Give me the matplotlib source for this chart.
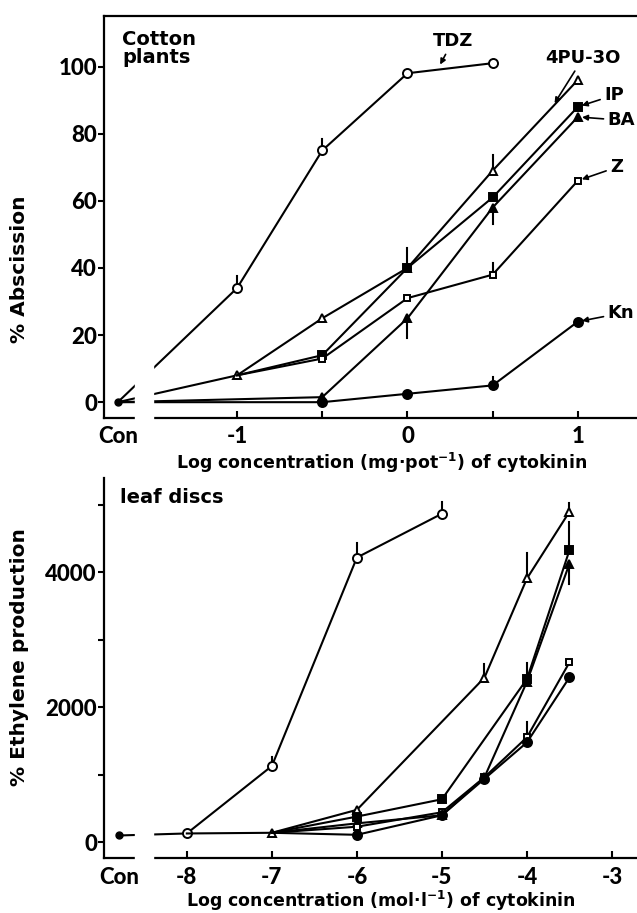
import matplotlib
matplotlib.use("Agg")
import matplotlib.pyplot as plt
import numpy as np

plt.rcParams['font.family'] = ['Lato', 'DejaVu Sans']
plt.rcParams['mathtext.default'] = 'regular'
plt.rcParams['axes.unicode_minus'] = False

nan = np.nan

# Top panel: cotton plants, % abscission (first value = control)
top_x = [-1, -0.5, 0, 0.5, 1]
top_ticklabels = ["-1", "", "0", "", "1"]
tdz_top = [0, 34, 75, 98, 101, nan]
pu_top = [0, 8, 25, 40, 69, 96]
ip_top = [nan, 8, 14, 40, 61, 88]
ba_top = [0, nan, 1.5, 25, 58, 85]
z_top = [nan, 8, 13, 31, 38, 66]
kn_top = [0, nan, 0, 2.5, 5, 24]
# one-sided error bars (+ up, - down)
tdz_top_err = [0, 3.5, 3.5, 0, 0, 0]
pu_top_err = [0, 0, 0, 6, 4.5, 0]
ip_top_err = [0, 0, 0, 0, 0, 0]
ba_top_err = [0, 0, 0, -6, -5, 0]
z_top_err = [0, 0, 0, 0, 3.5, 0]
kn_top_err = [0, 0, 0, 0, 2.5, 0]

# Bottom panel: leaf discs, % ethylene production (first value = control)
bot_x = [-8, -7, -6, -5, -4.5, -4, -3.5]
bot_ticklabels = ["-8", "-7", "-6", "-5", "-4", "-3"]
tdz_bot = [100, 130, 1130, 4220, 4870, nan, nan, nan]
pu_bot = [nan, 130, 140, 480, nan, 2440, 3910, 4900]
ip_bot = [nan, nan, 140, 380, 637, nan, 2420, 4330]
ba_bot = [nan, nan, 140, 280, 400, 963, 2380, 4130]
z_bot = [nan, nan, 140, 230, 444, 963, 1556, 2667]
kn_bot = [nan, nan, 140, 110, 400, 940, 1480, 2444]
tdz_bot_err = [0, 0, 130, 220, 170, 0, 0, 0]
pu_bot_err = [0, 0, 0, 0, 0, 200, 380, 130]
ip_bot_err = [0, 0, 0, 0, 0, 0, 230, 420]
ba_bot_err = [0, 0, 0, 0, 0, 0, 0, -300]
z_bot_err = [0, 0, 0, 0, 0, 0, 220, 0]
kn_bot_err = [0, 0, 0, 0, 0, 0, 0, 0]

names = ["TDZ", "4PU-3O", "IP", "BA", "Z", "Kn"]
styles = {
    "TDZ": dict(marker='o', mfc='white', ms=6.5),
    "4PU-3O": dict(marker='^', mfc='white', ms=6),
    "IP": dict(marker='s', mfc='black', ms=5.5),
    "BA": dict(marker='^', mfc='black', ms=6),
    "Z": dict(marker='s', mfc='white', ms=5),
    "Kn": dict(marker='o', mfc='black', ms=6.5),
}

LW = 1.5
TXT = ['DejaVu Sans']
fig = plt.figure(figsize=(6.37, 9.13), dpi=100)
ax1 = fig.add_axes([0.163, 0.542, 0.837, 0.441])
ax2 = fig.add_axes([0.163, 0.060, 0.837, 0.416])


def draw_panel(ax, con_x, xs, series, errs, gap):
    xx = np.array([con_x] + list(xs))
    for name, vals, err in zip(names, series, errs):
        v = np.array(vals, dtype=float)
        m = ~np.isnan(v)
        ax.plot(xx[m], v[m], color='black', lw=LW, mec='black', mew=1.4,
                markevery=slice(1, None), zorder=2, **styles[name])
        e = np.array(err, dtype=float)
        for xi, vi, ei in zip(xx, v, e):
            if ei != 0 and not np.isnan(vi):
                ax.plot([xi, xi], [vi, vi + ei], color='black', lw=LW, zorder=1)
    ax.plot([con_x], [series[0][0]], 'o', color='black', ms=5, zorder=3)
    # broken axis between control and the concentration scale
    ax.axvspan(gap[0], gap[1], ymin=-0.02, ymax=0.99, color='white',
               zorder=4, clip_on=False)
    ax.spines['right'].set_visible(False)
    for s in ax.spines.values():
        s.set_linewidth(1.6)
    ax.tick_params(axis='x', direction='in', length=5, width=1.5, pad=6)
    ax.tick_params(axis='y', direction='out', length=4, width=1.5, pad=1)
    ax.tick_params(axis='y', which='minor', direction='out', length=4, width=1.5)


tick_font = dict(fontsize=16, fontweight='black')
lab_font = dict(family=TXT, fontweight='bold')

# ---- top panel
con_top = -1.7
draw_panel(ax1, con_top, top_x,
           [tdz_top, pu_top, ip_top, ba_top, z_top, kn_top],
           [tdz_top_err, pu_top_err, ip_top_err, ba_top_err, z_top_err, kn_top_err],
           (-1.6, -1.494))
ax1.set_xlim(-1.782, 1.347)
ax1.set_ylim(-4.76, 115.2)
ax1.set_xticks([con_top] + top_x)
ax1.set_xticklabels(["Con"] + top_ticklabels, **tick_font)
ax1.xaxis.get_major_ticks()[0].tick1line.set_visible(False)
ax1.set_yticks([0, 20, 40, 60, 80, 100])
ax1.set_yticklabels(["0", "20", "40", "60", "80", "100"], **tick_font)
ax1.set_xlabel("Log concentration (mg·pot$^{-1}$) of cytokinin",
               fontsize=12.5, **lab_font)
ax1.set_ylabel("% Abscission", fontsize=14.5, **lab_font)
ax1.yaxis.set_label_coords(-0.14, 0.37)
ax1.xaxis.set_label_coords(0.52, -0.082)
ax1.text(0.034, 0.965, "Cotton\nplants", transform=ax1.transAxes, fontsize=14,
         va='top', ha='left', linespacing=0.95, zorder=6, **lab_font)

arr = dict(arrowstyle='-|>', color='black', lw=1.2, mutation_scale=8,
           shrinkA=1, shrinkB=3)
ann = dict(fontsize=13, zorder=6, arrowprops=arr, **lab_font)
ax1.annotate("TDZ", xy=(0.18, 99.5), xytext=(0.265, 107.5),
             ha='center', va='center', **ann)
ax1.annotate("4PU-3O", xy=(0.85, 88), xytext=(1.03, 102.5),
             ha='center', va='center', **ann)
ax1.annotate("IP", xy=(top_x[-1], ip_top[-1]), xytext=(1.155, 91.5),
             ha='left', va='center', **ann)
ax1.annotate("BA", xy=(top_x[-1], ba_top[-1]), xytext=(1.175, 84),
             ha='left', va='center', **ann)
ax1.annotate("Z", xy=(top_x[-1], z_top[-1]), xytext=(1.19, 70),
             ha='left', va='center', **ann)
ax1.annotate("Kn", xy=(top_x[-1], kn_top[-1]), xytext=(1.175, 26.5),
             ha='left', va='center', **ann)

# ---- bottom panel
con_bot = -8.8
draw_panel(ax2, con_bot, bot_x,
           [tdz_bot, pu_bot, ip_bot, ba_bot, z_bot, kn_bot],
           [tdz_bot_err, pu_bot_err, ip_bot_err, ba_bot_err, z_bot_err, kn_bot_err],
           (-8.611, -8.4))
ax2.spines['top'].set_visible(False)
ax2.set_xlim(-8.976, -2.706)
ax2.set_ylim(-237, 5393)
ax2.set_xticks([con_bot, -8, -7, -6, -5, -4, -3])
ax2.set_xticklabels(["Con"] + bot_ticklabels, **tick_font)
ax2.xaxis.get_major_ticks()[0].tick1line.set_visible(False)
ax2.set_yticks([0, 2000, 4000])
ax2.set_yticklabels(["0", "2000", "4000"], **tick_font)
ax2.set_yticks([1000, 3000, 5000], minor=True)
ax2.set_xlabel("Log concentration (mol·l$^{-1}$) of cytokinin",
               fontsize=12.5, **lab_font)
ax2.set_ylabel("% Ethylene production", fontsize=14.5, **lab_font)
ax2.yaxis.set_label_coords(-0.14, 0.53)
ax2.xaxis.set_label_coords(0.52, -0.08)
ax2.text(0.03, 0.95, "leaf discs", transform=ax2.transAxes, fontsize=14,
         va='center', ha='left', zorder=6, **lab_font)

fig.savefig("out.png", dpi=100)
